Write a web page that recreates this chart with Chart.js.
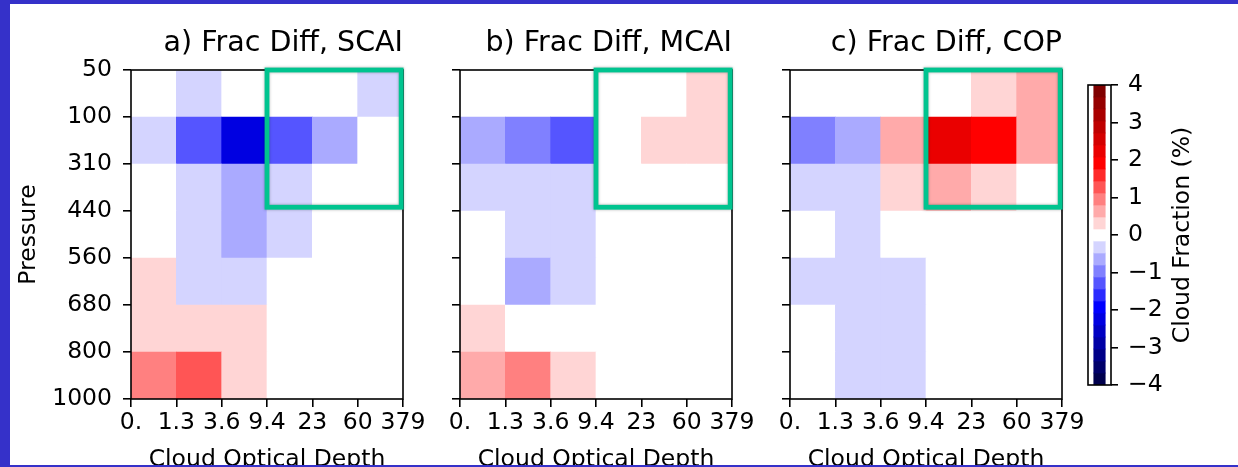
<!DOCTYPE html>
<html>
<head>
<meta charset="utf-8">
<script src="https://cdn.jsdelivr.net/npm/chart.js"></script>
<style>
  html, body { margin: 0; padding: 0; }
  body {
    position: relative;
    width: 1238px;
    height: 467px;
    overflow: hidden;
    background: #fff;
  }
  canvas { position: absolute; top: 0; }
  .edge { position: absolute; background: #3531c9; z-index: 5; }
</style>
</head>
<body>
<canvas id="panelA" width="428" height="480" style="left:1px"></canvas>
<canvas id="panelB" width="428" height="480" style="left:330px"></canvas>
<canvas id="panelC" width="428" height="480" style="left:660px"></canvas>
<canvas id="colorbar" width="160" height="467" style="left:1078px"></canvas>
<div class="edge" style="left:0;top:0;width:10px;height:467px"></div>
<div class="edge" style="left:0;top:0;width:1238px;height:4px"></div>
<div class="edge" style="left:0;top:465px;width:1238px;height:2px"></div>

<script>
// axis labels (bin edges)
const pressureLabels = ["50", "100", "310", "440", "560", "680", "800", "1000"];
const depthLabels = ["0.", "1.3", "3.6", "9.4", "23", "60", "379"];
const cbarTicks = [-4, -3, -2, -1, 0, 1, 2, 3, 4];

const panelTitles = ["a) Frac Diff, SCAI", "b) Frac Diff, MCAI", "c) Frac Diff, COP"];

// cloud fraction differences (%), rows top (50-100 hPa) to bottom (800-1000 hPa)
const scaiDiff = [
  [0, -0.3, 0, 0, 0, -0.3],
  [-0.3, -1.3, -2.2, -1.3, -0.6, 0],
  [0, -0.3, -0.6, -0.3, 0, 0],
  [0, -0.3, -0.6, -0.3, 0, 0],
  [0.3, -0.3, -0.3, 0, 0, 0],
  [0.3, 0.3, 0.3, 0, 0, 0],
  [1.0, 1.3, 0.3, 0, 0, 0],
];
const mcaiDiff = [
  [0, 0, 0, 0, 0, 0.3],
  [-0.6, -1.0, -1.3, 0, 0.3, 0.3],
  [-0.3, -0.3, -0.3, 0, 0, 0],
  [0, -0.3, -0.3, 0, 0, 0],
  [0, -0.6, -0.3, 0, 0, 0],
  [0.3, 0, 0, 0, 0, 0],
  [0.6, 1.0, 0.3, 0, 0, 0],
];
const copDiff = [
  [0, 0, 0, 0, 0.3, 0.6],
  [-1.0, -0.6, 0.6, 2.3, 1.9, 0.6],
  [-0.3, -0.3, 0.3, 0.6, 0.3, 0],
  [0, -0.3, 0, 0, 0, 0],
  [-0.3, -0.3, -0.3, 0, 0, 0],
  [0, -0.3, -0.3, 0, 0, 0],
  [0, -0.3, -0.3, 0, 0, 0],
];

// highlighted region (optical depth bins 3..6, pressure rows 0..3)
const highlightBox = { x: [3, 5.96], y: [0, 2.92] };

const VMIN = -4;
const VMAX = 4;
const N_LEVELS = 25;

const LABEL_SIZE = 23.5;
const TITLE_SIZE = 28.5;

Chart.defaults.font.family = '"DejaVu Sans", sans-serif';
Chart.defaults.color = "#000";

// matplotlib "seismic"
const seismicStops = [
  [0.0, [0, 0, 0.3]],
  [0.25, [0, 0, 1]],
  [0.5, [1, 1, 1]],
  [0.75, [1, 0, 0]],
  [1.0, [0.5, 0, 0]],
];

function seismic(t) {
  for (let i = 1; i < seismicStops.length; i++) {
    const [t0, c0] = seismicStops[i - 1];
    const [t1, c1] = seismicStops[i];
    if (t <= t1) {
      const f = (t - t0) / (t1 - t0);
      const rgb = c0.map((v, k) => Math.round(255 * (v + (c1[k] - v) * f)));
      return `rgb(${rgb.join(",")})`;
    }
  }
  return "rgb(128,0,0)";
}

function levelColor(value) {
  let k = Math.floor(((value - VMIN) / (VMAX - VMIN)) * N_LEVELS);
  k = Math.max(0, Math.min(N_LEVELS - 1, k));
  return seismic(k / (N_LEVELS - 1));
}

const framePlugin = {
  id: "frame",
  afterDatasetsDraw(chart) {
    const { ctx, chartArea: a } = chart;
    ctx.save();
    ctx.strokeStyle = "#000";
    ctx.lineWidth = 1.6;
    ctx.strokeRect(a.left, a.top, a.right - a.left, a.bottom - a.top);
    ctx.restore();
  },
};

const boxPlugin = {
  id: "highlight",
  afterDraw(chart) {
    const { ctx, scales } = chart;
    const x0 = scales.x.getPixelForValue(highlightBox.x[0]);
    const x1 = scales.x.getPixelForValue(highlightBox.x[1]);
    const y0 = scales.y.getPixelForValue(highlightBox.y[0]);
    const y1 = scales.y.getPixelForValue(highlightBox.y[1]);
    ctx.save();
    ctx.shadowColor = "rgba(0,0,0,0.3)";
    ctx.shadowBlur = 3;
    ctx.strokeStyle = "#00c48f";
    ctx.lineWidth = 4.8;
    ctx.strokeRect(x0, y0, x1 - x0, y1 - y0);
    ctx.restore();
  },
};

function makePanel(canvasId, values, title, showYLabels) {
  const cells = [];
  const colors = [];
  values.forEach((row, r) => {
    row.forEach((v, c) => {
      cells.push({ x: c + 0.5, y: [r, r + 1] });
      colors.push(levelColor(v));
    });
  });

  const tickGrid = {
    display: true,
    offset: false,
    drawOnChartArea: false,
    drawTicks: true,
    tickLength: 8,
    color: "#000",
    lineWidth: 1.6,
  };

  return new Chart(document.getElementById(canvasId), {
    type: "bar",
    data: {
      datasets: [
        {
          data: cells,
          backgroundColor: colors,
          borderWidth: 0,
          categoryPercentage: 1,
          barPercentage: 1,
        },
      ],
    },
    options: {
      responsive: false,
      animation: false,
      devicePixelRatio: 1,
      events: [],
      layout: { padding: { left: 0, right: 26, top: 0, bottom: 0 } },
      plugins: {
        legend: { display: false },
        tooltip: { enabled: false },
        title: {
          display: true,
          text: title,
          align: "end",
          color: "#000",
          font: { size: TITLE_SIZE, weight: "normal" },
          padding: { top: 26.4, bottom: 9.4 },
        },
      },
      scales: {
        x: {
          type: "linear",
          min: 0,
          max: 6,
          offset: false,
          grid: tickGrid,
          border: { display: false },
          ticks: {
            stepSize: 1,
            autoSkip: false,
            maxRotation: 0,
            padding: 2,
            font: { size: LABEL_SIZE },
            callback: (v) => depthLabels[v],
          },
          title: {
            display: true,
            text: "Cloud Optical Depth",
            font: { size: LABEL_SIZE },
            padding: { top: 0, bottom: 6.5 },
          },
          afterFit: (s) => {
            s.height = 81;
          },
        },
        y: {
          type: "linear",
          min: 0,
          max: 7,
          reverse: true,
          offset: false,
          grid: tickGrid,
          border: { display: false },
          ticks: {
            display: showYLabels,
            stepSize: 1,
            autoSkip: false,
            padding: 11,
            font: { size: LABEL_SIZE },
            callback: (v) => pressureLabels[v],
          },
          title: {
            display: showYLabels,
            text: "Pressure",
            font: { size: LABEL_SIZE },
            padding: { top: 13.9, bottom: 0 },
          },
          afterFit: (s) => {
            s.width = 130;
          },
        },
      },
    },
    plugins: [framePlugin, boxPlugin],
  });
}

function makeColorbar(canvasId) {
  const bands = [];
  const bandColors = [];
  const step = (VMAX - VMIN) / N_LEVELS;
  for (let k = 0; k < N_LEVELS; k++) {
    const lo = VMIN + k * step;
    bands.push({ x: 0.5, y: [lo, lo + step] });
    bandColors.push(seismic(k / (N_LEVELS - 1)));
  }

  const labelPlugin = {
    id: "cbarLabel",
    afterDraw(chart) {
      const { ctx, chartArea: a } = chart;
      ctx.save();
      ctx.translate(a.right + 72, (a.top + a.bottom) / 2);
      ctx.rotate(-Math.PI / 2);
      ctx.font = `${LABEL_SIZE}px "DejaVu Sans"`;
      ctx.fillStyle = "#000";
      ctx.textAlign = "center";
      ctx.textBaseline = "middle";
      ctx.fillText("Cloud Fraction (%)", 0, 0);
      ctx.restore();
    },
  };

  return new Chart(document.getElementById(canvasId), {
    type: "bar",
    data: {
      datasets: [
        {
          data: bands,
          backgroundColor: bandColors,
          borderWidth: 0,
          categoryPercentage: 1,
          barPercentage: 1,
        },
      ],
    },
    options: {
      responsive: false,
      animation: false,
      devicePixelRatio: 1,
      events: [],
      layout: { padding: { left: 10, right: 0, top: 85, bottom: 82 } },
      plugins: {
        legend: { display: false },
        tooltip: { enabled: false },
      },
      scales: {
        x: {
          type: "linear",
          min: 0,
          max: 1,
          display: false,
          ticks: { stepSize: 1 },
        },
        y: {
          type: "linear",
          position: "right",
          min: VMIN,
          max: VMAX,
          grid: {
            display: true,
            drawOnChartArea: false,
            drawTicks: true,
            tickLength: 7,
            color: "#000",
            lineWidth: 1.6,
          },
          border: { display: false },
          afterBuildTicks: (s) => {
            s.ticks = cbarTicks.map((v) => ({ value: v }));
          },
          ticks: {
            padding: 10,
            font: { size: LABEL_SIZE },
            callback: (v) => (v < 0 ? "\u2212" + Math.abs(v) : String(v)),
          },
          afterFit: (s) => {
            s.width = 127;
          },
        },
      },
    },
    plugins: [framePlugin, labelPlugin],
  });
}

makePanel("panelA", scaiDiff, panelTitles[0], true);
makePanel("panelB", mcaiDiff, panelTitles[1], false);
makePanel("panelC", copDiff, panelTitles[2], false);
makeColorbar("colorbar");
</script>
</body>
</html>
